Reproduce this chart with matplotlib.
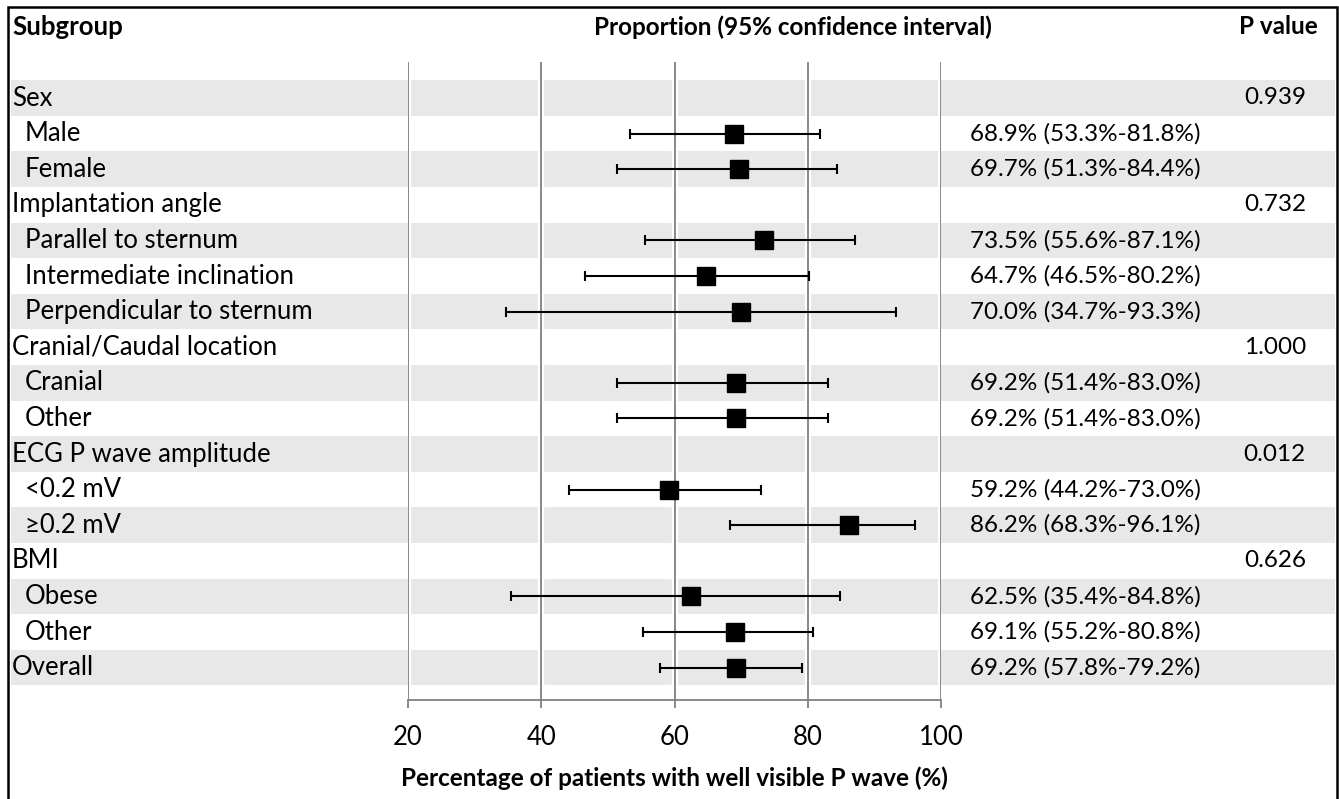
import numpy as np
import matplotlib
matplotlib.use("Agg")
import matplotlib.pyplot as plt
from matplotlib.patches import Rectangle
from matplotlib.transforms import blended_transform_factory

plt.rcParams['font.family'] = ['Lato', 'DejaVu Sans']

# ---------------- data ----------------
labels = ["Sex", "Male", "Female", "Implantation angle", "Parallel to sternum",
          "Intermediate inclination", "Perpendicular to sternum",
          "Cranial/Caudal location", "Cranial", "Other", "ECG P wave amplitude",
          "<0.2 mV", "\u22650.2 mV", "BMI", "Obese", "Other", "Overall"]
indented = [0, 1, 1, 0, 1, 1, 1, 0, 1, 1, 0, 1, 1, 0, 1, 1, 0]
estimate = [np.nan, 68.9, 69.7, np.nan, 73.5, 64.7, 70.0, np.nan, 69.2, 69.2,
            np.nan, 59.2, 86.2, np.nan, 62.5, 69.1, 69.2]
lower = [np.nan, 53.3, 51.3, np.nan, 55.6, 46.5, 34.7, np.nan, 51.4, 51.4,
         np.nan, 44.2, 68.3, np.nan, 35.4, 55.2, 57.8]
upper = [np.nan, 81.8, 84.4, np.nan, 87.1, 80.2, 93.3, np.nan, 83.0, 83.0,
         np.nan, 73.0, 96.1, np.nan, 84.8, 80.8, 79.2]
pvalues = ["0.939", "", "", "0.732", "", "", "", "1.000", "", "",
           "0.012", "", "", "0.626", "", "", ""]
xticks = [20, 40, 60, 80, 100]

# ---------------- layout ----------------
W, H = 1339, 799
fig = plt.figure(figsize=(W / 100, H / 100), dpi=100)
fs = 17.5
fs_lab = 18.5
row0, step = 98, 35.6
ax_top, ax_bot = 62, 700
y_top = (ax_top - row0) / step
y_bot = (ax_bot - row0) / step
ax = fig.add_axes([408 / W, 1 - ax_bot / H, (941 - 408) / W, (ax_bot - ax_top) / H])
ax.set_xlim(20, 100)
ax.set_ylim(y_bot, y_top)
ax.patch.set_visible(False)

n = len(labels)
ys = np.arange(n)
bt = blended_transform_factory(fig.transFigure, ax.transData)

# shaded rows
for i in range(0, n, 2):
    ax.add_patch(Rectangle((11 / W, i - 0.5), (1335 - 11) / W, 1.0, transform=bt,
                           facecolor="#e8e8e8", edgecolor="none", zorder=0, clip_on=False))

# grid lines with white gap
for xt in xticks:
    ax.axvline(xt, color="white", lw=4.5, zorder=1)
    ax.axvline(xt, color="#808080", lw=1.3, zorder=2)

# error bars and markers
est = np.array(estimate)
lo = np.array(lower)
hi = np.array(upper)
m = ~np.isnan(est)
ax.errorbar(est[m], ys[m], xerr=[est[m] - lo[m], hi[m] - est[m]], fmt="none",
            ecolor="black", elinewidth=1.5, capsize=3.8, capthick=1.5, zorder=3)
ax.plot(est[m], ys[m], "s", color="black", markersize=13.5, zorder=4)

# axes styling
for s in ["left", "right", "top"]:
    ax.spines[s].set_visible(False)
ax.spines["bottom"].set_color("#808080")
ax.spines["bottom"].set_linewidth(1.3)
ax.set_yticks([])
ax.set_xticks(xticks)
ax.set_xticklabels([str(t) for t in xticks], fontsize=18.5)
ax.tick_params(axis="x", length=6, width=1.3, color="#808080", pad=12)
ax.set_xlabel("Percentage of patients with well visible P wave (%)", fontsize=fs,
              fontweight="bold", labelpad=12)

# row texts
for i in range(n):
    x0 = 25 if indented[i] else 12
    ax.text(x0 / W, i, labels[i], transform=bt, ha="left", va="center", fontsize=fs_lab)
    if m[i]:
        ax.text(970 / W, i, f"{est[i]:.1f}% ({lo[i]:.1f}%-{hi[i]:.1f}%)", transform=bt,
                ha="left", va="center", fontsize=fs)
    if pvalues[i]:
        ax.text(1306 / W, i, pvalues[i], transform=bt, ha="right", va="center", fontsize=fs)

# headers
hy = 1 - 27 / H
fig.text(12 / W, hy, "Subgroup", ha="left", va="center", fontsize=fs_lab, fontweight="bold")
fig.text(793 / W, hy, "Proportion (95% confidence interval)", ha="center", va="center",
         fontsize=fs, fontweight="bold")
fig.text(1318 / W, hy, "P value", ha="right", va="center", fontsize=fs, fontweight="bold")

# outer frame
fig.patches.append(Rectangle((8 / W, -0.05), (1337 - 8) / W, 0.05 + 1 - 7 / H,
                             transform=fig.transFigure, fill=False, edgecolor="black",
                             linewidth=1.8, zorder=10))

fig.savefig("out.png", dpi=100)
